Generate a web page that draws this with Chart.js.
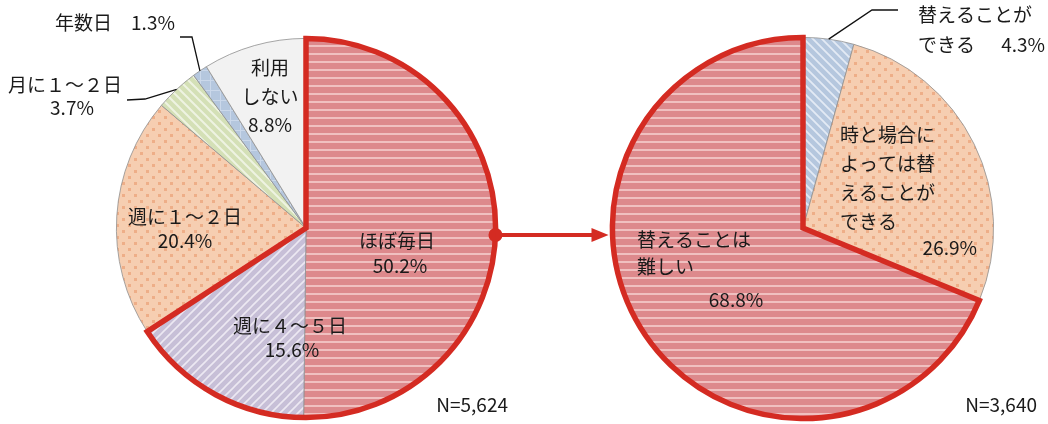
<!DOCTYPE html>
<html>
<head>
<meta charset="utf-8">
<script src="https://cdn.jsdelivr.net/npm/chart.js@4/dist/chart.umd.min.js"></script>
<style>
  html, body { margin: 0; padding: 0; background: #fff; }
  #wrap { position: relative; width: 1048px; height: 424px; }
  #wrap canvas { position: absolute; left: 0; top: 0; }
</style>
</head>
<body>
<div id="wrap">
  <canvas id="leftPie" width="1048" height="424"></canvas>
  <canvas id="rightPie" width="1048" height="424"></canvas>
</div>
<script>
// data
var leftCategories = ['ほぼ毎日', '週に４〜５日', '週に１〜２日', '月に１〜２日', '年数日', '利用しない'];
var leftValues = [50.2, 15.6, 20.4, 3.7, 1.3, 8.8];
var leftHighlight = [0, 1];
var leftN = 'N=5,624';

var rightCategories = ['替えることができる', '時と場合によっては替えることができる', '替えることは難しい'];
var rightValues = [4.3, 26.9, 68.8];
var rightHighlight = [2];
var rightN = 'N=3,640';

var FONT = '"Noto Sans CJK JP", "Noto Sans", sans-serif';
var RED = '#d42b22';

// label layout, offsets from the pie centre
var leftLabels = [
  {breaks: [], x: 91, y: 13, align: 'center', pct: [94, 38, 'center']},
  {breaks: [], x: -16, y: 98, align: 'center', pct: [-14, 122, 'center']},
  {breaks: [], x: -121, y: -11, align: 'center', pct: [-121, 13, 'center']},
  {breaks: [], x: -241, y: -143, align: 'center', pct: [-234, -120, 'center'],
    leader: [[-179, -128], [-161, -129]]},
  {breaks: [], x: -191, y: -205, align: 'center', inline: true,
    leader: [[-126, -191], [-114, -191]]},
  {breaks: [2], x: -36, y: -160, lh: 29, align: 'center', pct: [-36, -103, 'center']}
];
var rightLabels = [
  {breaks: [6], x: 115, y: -213, lh: 30, align: 'left', pct: [242, -183, 'right'],
    leader: [[95, -218], [69, -218]]},
  {breaks: [5, 10, 15], x: 37, y: -93, lh: 29, align: 'left', pct: [174, 20, 'right']},
  {breaks: [6], x: -166, y: 12, lh: 27, align: 'left', pct: [-67, 72, 'center']}
];

function tile(size, draw){
  var c = document.createElement('canvas');
  c.width = size; c.height = size;
  var g = c.getContext('2d');
  draw(g, size);
  return g.createPattern(c, 'repeat');
}

function stripes(base, line, size, dir, w){
  return tile(size, function(g, s){
    g.fillStyle = base;
    g.fillRect(0, 0, s, s);
    g.strokeStyle = line;
    g.lineWidth = w;
    g.beginPath();
    if (dir === '/'){
      g.moveTo(0, s); g.lineTo(s, 0);
      g.moveTo(-1, 1); g.lineTo(1, -1);
      g.moveTo(s - 1, s + 1); g.lineTo(s + 1, s - 1);
    }else{
      g.moveTo(0, 0); g.lineTo(s, s);
      g.moveTo(s - 1, -1); g.lineTo(s + 1, 1);
      g.moveTo(-1, s - 1); g.lineTo(1, s + 1);
    }
    g.stroke();
  });
}

var fills = {
  red: tile(8, function(g, s){
    g.fillStyle = '#dd898c'; g.fillRect(0, 0, s, s);
    g.fillStyle = '#f0c0c0'; g.fillRect(0, 5, s, 2);
  }),
  purple: stripes('#c7bfd7', '#ece8f2', 9, '/', 1.6),
  orange: tile(12, function(g, s){
    g.fillStyle = '#f6ceb1'; g.fillRect(0, 0, s, s);
    g.fillStyle = '#eeae88';
    g.fillRect(2, 2, 3, 3);
    g.fillRect(8, 8, 3, 3);
  }),
  green: stripes('#d4e0b6', '#eef3e2', 9, '\\', 2),
  grid: tile(10, function(g, s){
    g.fillStyle = '#b5c7de'; g.fillRect(0, 0, s, s);
    g.fillStyle = '#cbd8ea';
    g.fillRect(0, 0, s, 1); g.fillRect(0, 0, 1, s);
  }),
  gray: '#f2f2f2',
  blue: stripes('#b5c7de', '#e3eaf4', 9, '\\', 1.8)
};

function nameLines(name, breaks){
  var out = [], last = 0;
  breaks.forEach(function(b){ out.push(name.slice(last, b)); last = b; });
  out.push(name.slice(last));
  return out;
}

function drawLabels(chart, categories, values, layout, nText, nPos){
  var ctx = chart.ctx;
  var arcs = chart.getDatasetMeta(0).data;
  var cx = arcs[0].x, cy = arcs[0].y;
  ctx.save();
  ctx.fillStyle = '#1a1a1a';
  ctx.strokeStyle = '#111';
  ctx.font = '19px ' + FONT;
  ctx.textBaseline = 'middle';
  layout.forEach(function(lab, i){
    var pct = values[i].toFixed(1) + '%';
    var lines = nameLines(categories[i], lab.breaks);
    if (lab.inline) lines[lines.length - 1] += '\u3000' + pct;
    ctx.textAlign = lab.align;
    lines.forEach(function(t, k){
      ctx.fillText(t, cx + lab.x, cy + lab.y + k * (lab.lh || 24));
    });
    if (lab.pct){
      ctx.textAlign = lab.pct[2];
      ctx.fillText(pct, cx + lab.pct[0], cy + lab.pct[1]);
    }
    if (lab.leader){
      var arc = arcs[i];
      var mid = (arc.startAngle + arc.endAngle) / 2;
      ctx.lineWidth = 1.3;
      ctx.beginPath();
      ctx.moveTo(cx + lab.leader[0][0], cy + lab.leader[0][1]);
      ctx.lineTo(cx + lab.leader[1][0], cy + lab.leader[1][1]);
      ctx.lineTo(cx + Math.cos(mid) * arc.outerRadius, cy + Math.sin(mid) * arc.outerRadius);
      ctx.stroke();
    }
  });
  ctx.textAlign = 'right';
  ctx.fillText(nText, cx + nPos[0], cy + nPos[1]);
  ctx.restore();
}

function drawOutline(chart, idx){
  var arcs = chart.getDatasetMeta(0).data;
  var first = arcs[idx[0]], last = arcs[idx[idx.length - 1]];
  var ctx = chart.ctx;
  ctx.save();
  ctx.strokeStyle = RED;
  ctx.lineWidth = 5.5;
  ctx.lineJoin = 'miter';
  ctx.beginPath();
  ctx.moveTo(first.x, first.y);
  ctx.arc(first.x, first.y, first.outerRadius, first.startAngle, last.endAngle);
  ctx.closePath();
  ctx.stroke();
  ctx.restore();
}

function pieConfig(categories, values, colours, pad, extra){
  return {
    type: 'pie',
    data: {
      labels: categories,
      datasets: [{
        data: values,
        backgroundColor: colours,
        borderColor: '#8f8f8f',
        borderWidth: 0.8
      }]
    },
    options: {
      responsive: false,
      animation: false,
      events: [],
      layout: {padding: pad},
      plugins: {legend: {display: false}, tooltip: {enabled: false}}
    },
    plugins: [{id: 'extra', afterDraw: extra}]
  };
}

var leftChart = new Chart(document.getElementById('leftPie'), pieConfig(
  leftCategories, leftValues,
  [fills.red, fills.purple, fills.orange, fills.green, fills.grid, fills.gray],
  {left: 116, right: 552, top: 38, bottom: 6},
  function(chart){
    drawOutline(chart, leftHighlight);
    drawLabels(chart, leftCategories, leftValues, leftLabels, leftN, [202, 177]);
  }
));

var rightChart = new Chart(document.getElementById('rightPie'), pieConfig(
  rightCategories, rightValues,
  [fills.blue, fills.orange, fills.red],
  {left: 612, right: 54, top: 37, bottom: 5},
  function(chart){
    drawOutline(chart, rightHighlight);
    drawLabels(chart, rightCategories, rightValues, rightLabels, rightN, [234, 177]);

    // arrow from the left pie to the right one
    var a = leftChart.getDatasetMeta(0).data[0];
    var b = chart.getDatasetMeta(0).data[0];
    var dy = 7;
    var y = a.y + dy;
    var x0 = a.x + Math.sqrt(a.outerRadius * a.outerRadius - dy * dy);
    var x1 = b.x - Math.sqrt(b.outerRadius * b.outerRadius - dy * dy) - 4;
    var ctx = chart.ctx;
    ctx.save();
    ctx.fillStyle = RED;
    ctx.strokeStyle = RED;
    ctx.lineWidth = 4;
    ctx.beginPath();
    ctx.arc(x0, y, 7, 0, Math.PI * 2);
    ctx.fill();
    ctx.beginPath();
    ctx.moveTo(x0, y);
    ctx.lineTo(x1 - 14, y);
    ctx.stroke();
    ctx.beginPath();
    ctx.moveTo(x1, y);
    ctx.lineTo(x1 - 17, y - 7);
    ctx.lineTo(x1 - 17, y + 7);
    ctx.closePath();
    ctx.fill();
    ctx.restore();
  }
));
</script>
</body>
</html>
